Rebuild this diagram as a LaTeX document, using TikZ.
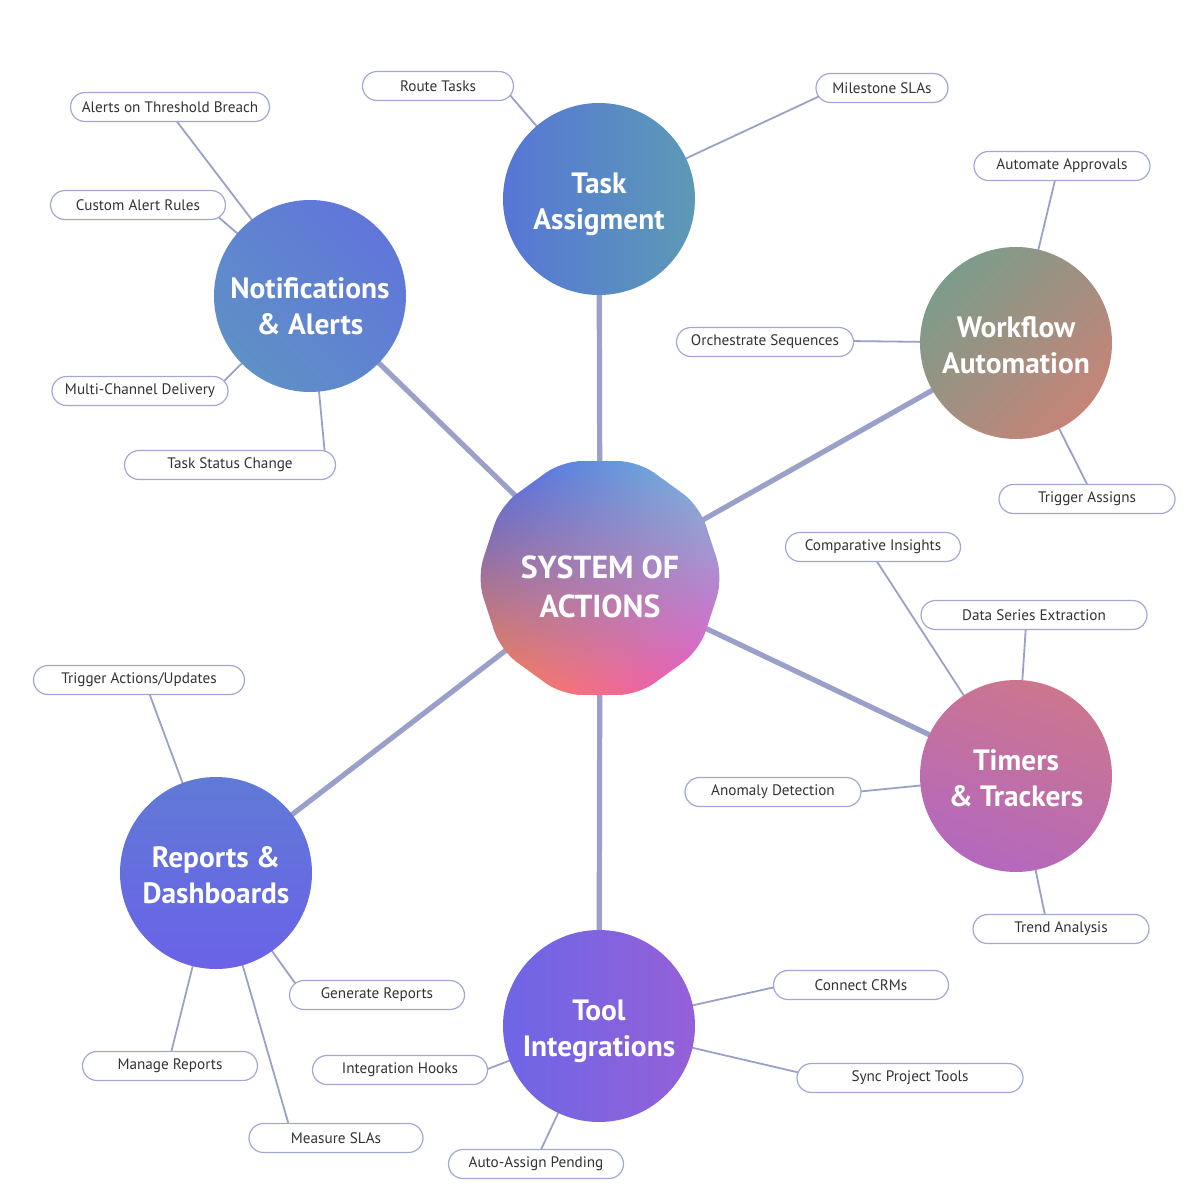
\documentclass[tikz,border=0pt]{standalone}
\usepackage{fontspec}
\setmainfont{PT Sans}
\usepackage{tikz}
\usepackage{xcolor}
\usetikzlibrary{shapes.geometric, shadings, backgrounds}

\definecolor{linkcol}{HTML}{9BA0C9}
\definecolor{pillcol}{HTML}{A3A8D2}
\definecolor{pilltext}{HTML}{333333}

\begin{document}
\begin{tikzpicture}[x=0.5pt, y=-0.5pt,
    hub/.style={circle, minimum size=96pt, inner sep=0pt, align=center, text=white,
        text height=30pt, text depth=0pt,
        font=\bfseries\fontsize{14.7}{18}\selectfont},
    leaf/.style={draw=pillcol, line width=0.6pt, fill=white, rounded corners=7.25pt,
        minimum height=14.5pt, minimum width=87.5pt, inner sep=0pt, text=pilltext,
        font=\fontsize{7.6}{9}\selectfont},
    trunk/.style={draw=linkcol, line width=2.6pt},
    twig/.style={draw=linkcol, line width=0.9pt}]
    \useasboundingbox (0,0) rectangle (1200,1199);

    % centre
    \node[regular polygon, regular polygon sides=10, minimum size=123pt, inner sep=0pt,
        rounded corners=10pt, upper left={rgb,255:red,76;green,98;blue,228},
        upper right={rgb,255:red,122;green,192;blue,216},
        lower left={rgb,255:red,250;green,132;blue,72},
        lower right={rgb,255:red,236;green,84;blue,204},
        shading=bilinear interpolation, align=center, text=white,
        text height=39pt, text depth=0pt,
        font=\bfseries\fontsize{15.9}{19.5}\selectfont] (sys) at (600,578) {SYSTEM OF\\ACTIONS};

    % hubs
    \node[hub, top color={rgb,255:red,86;green,118;blue,214}, bottom color={rgb,255:red,92;green,154;blue,182},
        shading angle=90] (task) at (599,199) {Task\\Assigment};
    \node[hub, text height=38pt, top color={rgb,255:red,96;green,118;blue,218}, bottom color={rgb,255:red,95;green,144;blue,198},
        shading angle=-45] (notif) at (310,296) {Notifications\\\& Alerts};
    \node[hub, top color={rgb,255:red,124;green,156;blue,138}, bottom color={rgb,255:red,198;green,132;blue,120},
        shading angle=45] (flow) at (1016,343) {Workflow\\Automation};
    \node[hub, top color={rgb,255:red,204;green,118;blue,142}, bottom color={rgb,255:red,180;green,104;blue,190},
        shading angle=-20] (timers) at (1016,776) {Timers\\\& Trackers};
    \node[hub, top color={rgb,255:red,96;green,122;blue,214}, bottom color={rgb,255:red,106;green,98;blue,232}]
        (reports) at (216,873) {Reports \&\\Dashboards};
    \node[hub, top color={rgb,255:red,110;green,102;blue,230}, bottom color={rgb,255:red,148;green,96;blue,216},
        shading angle=90] (tools) at (599,1026) {Tool\\Integrations};

    % leaves
    \node[leaf, minimum width=99.5pt] (thresh) at (170,107) {Alerts on Threshold Breach};
    \node[leaf] (rules) at (138,205) {Custom Alert Rules};
    \node[leaf, minimum width=88pt] (multi) at (140,391) {Multi-Channel Delivery};
    \node[leaf, minimum width=105.5pt] (status) at (230,465) {Task Status Change};
    \node[leaf, minimum width=75.5pt] (route) at (438,86) {Route Tasks};
    \node[leaf, minimum width=66pt] (slas) at (882,88) {Milestone SLAs};
    \node[leaf, minimum width=88pt] (approve) at (1062,166) {Automate Approvals};
    \node[leaf, minimum width=88.5pt] (orch) at (765,342) {Orchestrate Sequences};
    \node[leaf, minimum width=88pt] (trigas) at (1087,499) {Trigger Assigns};
    \node[leaf] (compare) at (873,547) {Comparative Insights};
    \node[leaf, minimum width=113pt] (series) at (1034,615) {Data Series Extraction};
    \node[leaf, minimum width=88pt] (anomaly) at (773,792) {Anomaly Detection};
    \node[leaf, minimum width=88pt] (trend) at (1061,929) {Trend Analysis};
    \node[leaf, minimum width=105.5pt] (trigact) at (139,680) {Trigger Actions/Updates};
    \node[leaf] (genrep) at (377,995) {Generate Reports};
    \node[leaf] (manrep) at (170,1066) {Manage Reports};
    \node[leaf, minimum width=87pt] (measure) at (336,1138) {Measure SLAs};
    \node[leaf] (crm) at (861,985) {Connect CRMs};
    \node[leaf] (hooks) at (400,1070) {Integration Hooks};
    \node[leaf, minimum width=113pt] (sync) at (910,1078) {Sync Project Tools};
    \node[leaf] (autoas) at (536,1164) {Auto-Assign Pending};

    \begin{scope}[on background layer]
        % centre to hubs
        \foreach \h in {task, notif, flow, timers, reports, tools}
            \draw[trunk] (sys.center) -- (\h.center);
        % hubs to leaves
        \draw[twig] (notif.center) -- ([shift={(5,12)}]thresh.center);
        \draw[twig] (notif.center) -- ([shift={(78,10)}]rules.center);
        \draw[twig] (notif.center) -- ([shift={(80,-6)}]multi.center);
        \draw[twig] (notif.center) -- ([shift={(95,-10)}]status.center);
        \draw[twig] (task.center) -- ([shift={(71,8)}]route.center);
        \draw[twig] (task.center) -- ([shift={(-60,7)}]slas.center);
        \draw[twig] (flow.center) -- ([shift={(-6,10)}]approve.center);
        \draw[twig] (flow.center) -- ([shift={(83,-1)}]orch.center);
        \draw[twig] (flow.center) -- ([shift={(3,-9)}]trigas.center);
        \draw[twig] (timers.center) -- ([shift={(1,10)}]compare.center);
        \draw[twig] (timers.center) -- ([shift={(-8,10)}]series.center);
        \draw[twig] (timers.center) -- ([shift={(82,0)}]anomaly.center);
        \draw[twig] (timers.center) -- ([shift={(-15,-9)}]trend.center);
        \draw[twig] (reports.center) -- ([shift={(9,10)}]trigact.center);
        \draw[twig] (reports.center) -- ([shift={(-77,-5)}]genrep.center);
        \draw[twig] (reports.center) -- ([shift={(0,-9)}]manrep.center);
        \draw[twig] (reports.center) -- ([shift={(-46,-9)}]measure.center);
        \draw[twig] (tools.center) -- ([shift={(-81,1)}]crm.center);
        \draw[twig] (tools.center) -- ([shift={(80,2)}]hooks.center);
        \draw[twig] (tools.center) -- ([shift={(-105,-4)}]sync.center);
        \draw[twig] (tools.center) -- ([shift={(2,-8)}]autoas.center);
    \end{scope}
\end{tikzpicture}
\end{document}
